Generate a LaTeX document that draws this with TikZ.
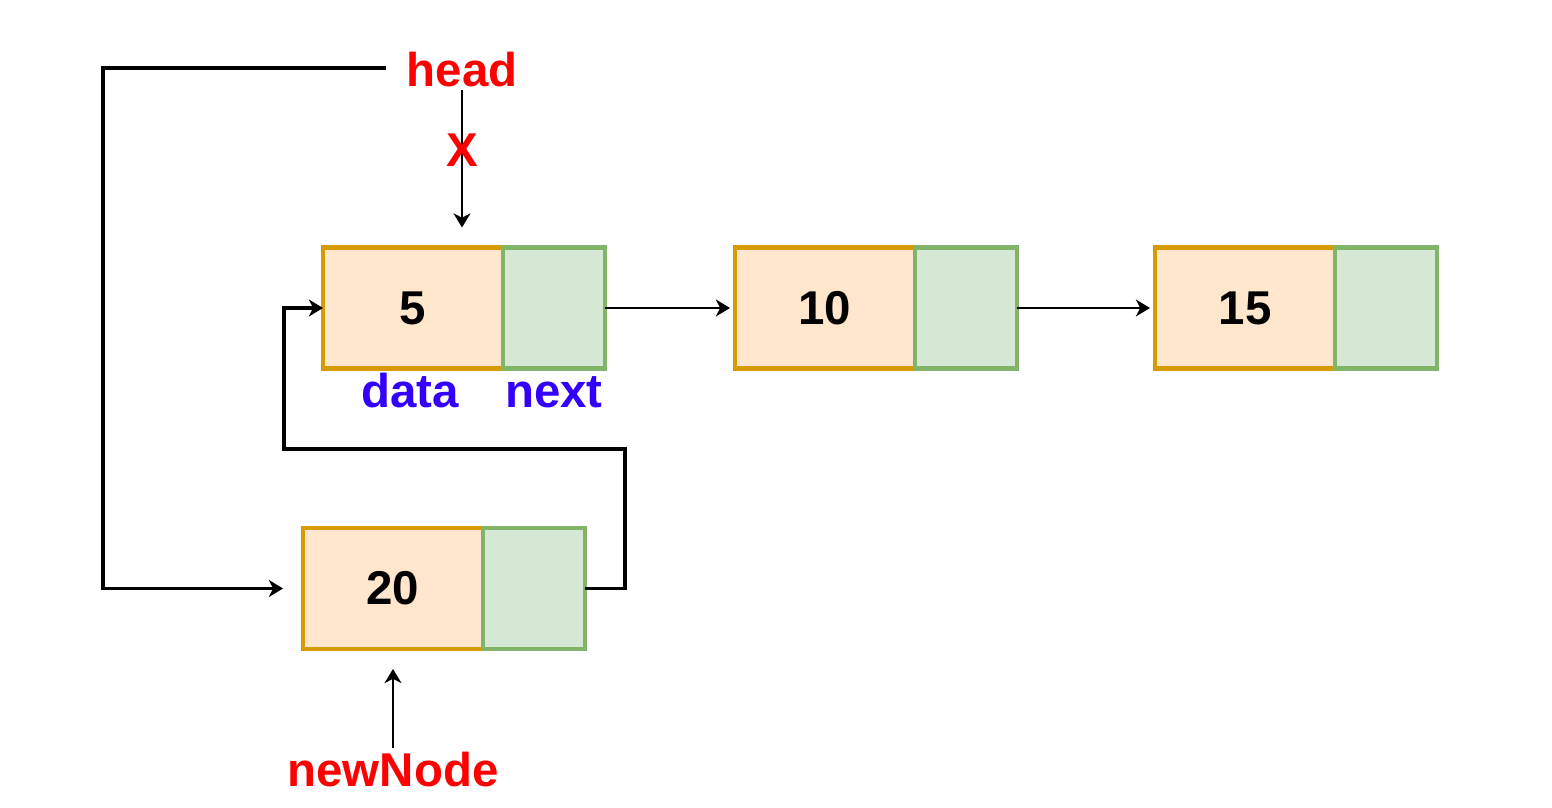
\documentclass[tikz,border=0pt]{standalone}
\usepackage{fontspec}
\setmainfont{Liberation Sans}
\usepackage{tikz}
\usetikzlibrary{positioning,arrows.meta}
\definecolor{dataline}{HTML}{D79B00}
\definecolor{datafill}{HTML}{FFE6CC}
\definecolor{nextline}{HTML}{82B366}
\definecolor{nextfill}{HTML}{D5E8D4}
\definecolor{labred}{HTML}{FF0000}
\definecolor{labblue}{HTML}{3300FF}

\begin{document}
\begin{tikzpicture}[
	font=\fontsize{13.5}{16}\selectfont\bfseries,
	datacell/.style={draw=dataline, fill=datafill, line width=1.2pt, minimum width=1.8cm, minimum height=1.21cm, inner sep=0pt, outer sep=0pt},
	nextcell/.style={draw=nextline, fill=nextfill, line width=1.2pt, minimum width=1.02cm, minimum height=1.21cm, inner sep=0pt, outer sep=0pt, anchor=west},
	tip/.style={-{Stealth[length=4pt, width=4.8pt, inset=1.2pt]}},
	thin link/.style={line width=0.6pt, tip},
	thick link/.style={line width=0.9pt}
]
	\useasboundingbox (0,0) rectangle (15.52,8.08);
	\node[datacell] (d1) at (4.13,5.0) {5};
	\node[nextcell] (n1) at (d1.east) {};
	\node[datacell] (d2) at (8.25,5.0) {10};
	\node[nextcell] (n2) at (d2.east) {};
	\node[datacell] (d3) at (12.45,5.0) {15};
	\node[nextcell] (n3) at (d3.east) {};
	\node[datacell] (d4) at (3.93,2.195) {20};
	\node[nextcell] (n4) at (d4.east) {};
	\node[text=labred] (head) at (4.62,7.38) {head};
	\node[text=labred] (newnode) at (3.93,0.38) {newNode};
	\node[text=labblue, anchor=base] (datalab) at ([xshift=-0.03cm, yshift=-0.39cm]d1.south) {data};
	\node[text=labblue, anchor=base] (nextlab) at ([yshift=-0.39cm]n1.south) {next};
	\coordinate (hl) at (1.03,7.40);
	\coordinate (lp) at (2.84,3.59);
	\draw[thin link, shorten >=0.2cm] ([yshift=0.1cm]head.south) -- (head |- d1.north) node[pos=0.38, text=labred, inner sep=0pt] (cross) {X};
	\draw[thin link, shorten >=0.05cm] (n1) -- (d2);
	\draw[thin link, shorten >=0.05cm] (n2) -- (d3);
	\draw[thin link, shorten >=0.2cm] ([yshift=-0.08cm]newnode.north) -- (d4.south -| newnode);
	\draw[thick link, tip, shorten >=0.2cm] ([xshift=-0.08cm]head.west |- hl) -- (hl) |- (d4.west);
	\draw[thick link, tip] (n4.east) -- ++(0.4,0) |- (lp) |- (d1.west);
\end{tikzpicture}
\end{document}
